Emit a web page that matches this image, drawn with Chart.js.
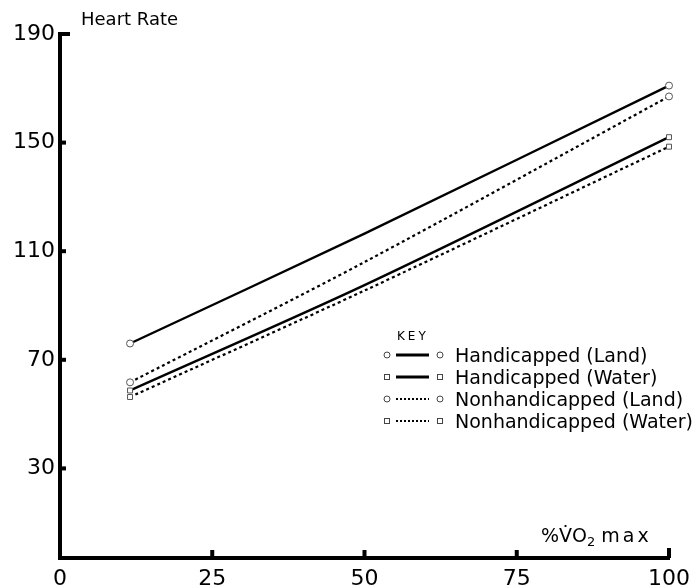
<!DOCTYPE html>
<html>
<head>
<meta charset="utf-8">
<script src="https://cdn.jsdelivr.net/npm/chart.js@4.4.1/dist/chart.umd.min.js"></script>
<style>
  html, body { margin: 0; padding: 0; background: #fff; }
  #wrap { position: relative; width: 699px; height: 586px; font-family: "DejaVu Sans", sans-serif; color: #000; }
  #wrap canvas { position: absolute; left: 0; top: 0; }
  .lbl { position: absolute; white-space: nowrap; }
  .key-row { display: flex; align-items: center; height: 22px; }
  .key-row svg { flex: none; margin-right: 5px; }
  .key-row span { font-size: 19px; line-height: 22px; }
  sub { font-size: 13px; vertical-align: -4px; line-height: 0; }
</style>
</head>
<body>
<div id="wrap">
  <canvas id="c-hr" width="699" height="586"></canvas>
  <div class="lbl" style="left:81px;top:10px;font-size:18px;line-height:18px">Heart Rate</div>
  <div class="lbl" style="left:541px;top:526px;font-size:19px;line-height:19px">%V̇O<sub>2</sub> <span style="letter-spacing:3px">max</span></div>
  <div class="lbl" style="left:397px;top:330px;font-size:12px;line-height:12px;letter-spacing:3px">KEY</div>
  <div id="hr-legend" style="position:absolute;left:380px;top:344px"></div>
</div>
<script>
// % VO2 max (x) and heart rate readings per group
const xPct    = [11.5, 50, 100];
const hcLand  = [76, 116.5, 171];
const hcWater = [58.7, 97.5, 152];
const nhLand  = [61.7, 106, 167];
const nhWater = [56.3, 95.5, 148.5];
const yTicks  = [30, 70, 110, 150, 190];
const xTicks  = [0, 25, 50, 75, 100];
const names   = ['Handicapped (Land)', 'Handicapped (Water)', 'Nonhandicapped (Land)', 'Nonhandicapped (Water)'];

const series = [hcLand, hcWater, nhLand, nhWater];
const marks  = ['circle', 'rect', 'circle', 'rect'];
const dashes = [[], [], [3, 3], [3, 3]];

const isEnd = ctx => ctx.dataIndex === 0 || ctx.dataIndex === ctx.dataset.data.length - 1;

const tickStubs = {
  id: 'tickStubs',
  afterDraw(chart) {
    const { ctx, chartArea: a, scales: { x, y } } = chart;
    ctx.save();
    ctx.fillStyle = '#000';
    yTicks.forEach(v => {
      const py = y.getPixelForValue(v);
      ctx.fillRect(a.left, py - 2, v === 190 ? 10 : 6, 4);
    });
    xTicks.slice(1).forEach(v => {
      const px = x.getPixelForValue(v);
      ctx.fillRect(px - 2, a.bottom - (v === 100 ? 10 : 8), 4, v === 100 ? 10 : 8);
    });
    ctx.restore();
  }
};

const chart = new Chart(document.getElementById('c-hr'), {
  type: 'line',
  data: {
    datasets: series.map((s, i) => ({
      label: names[i],
      data: s.map((v, j) => ({ x: xPct[j], y: v })),
      borderColor: '#000', borderWidth: dashes[i].length ? 2.2 : 2.4, borderDash: dashes[i],
      tension: 0.3, fill: false, clip: false,
      pointStyle: marks[i],
      pointRadius: ctx => isEnd(ctx) ? 3.5 : 0,
      pointBackgroundColor: '#fff', pointBorderColor: '#555', pointBorderWidth: 1,
    })),
  },
  options: {
    responsive: false, animation: false,
    layout: { padding: { top: 34, right: 30, left: 2, bottom: 0 } },
    plugins: { legend: { display: false }, tooltip: { enabled: false } },
    scales: {
      x: {
        type: 'linear', min: 0, max: 100,
        afterBuildTicks: sc => { sc.ticks = xTicks.map(v => ({ value: v })); },
        afterFit: sc => { sc.height = 28; },
        grid: { drawOnChartArea: false, drawTicks: false },
        border: { color: '#000', width: 4 },
        ticks: { color: '#000', padding: 8, maxRotation: 0, autoSkip: false,
                 font: { family: 'DejaVu Sans', size: 22 } },
      },
      y: {
        type: 'linear', min: -3, max: 190,
        afterBuildTicks: sc => { sc.ticks = yTicks.map(v => ({ value: v })); },
        afterFit: sc => { sc.width = 58; },
        grid: { drawOnChartArea: false, drawTicks: false },
        border: { color: '#000', width: 4 },
        ticks: { color: '#000', padding: 5, font: { family: 'DejaVu Sans', size: 22 } },
      },
    },
  },
  plugins: [tickStubs],
});

document.getElementById('hr-legend').innerHTML = chart.data.datasets.map(d => {
  const dash = d.borderDash.length ? ' stroke-dasharray="2 2"' : '';
  const w = d.borderDash.length ? 1.8 : 2.8;
  const m = cx => d.pointStyle === 'rect'
    ? `<rect x="${cx - 2.5}" y="8.5" width="5" height="5" fill="#fff" stroke="#444" stroke-width="1"/>`
    : `<circle cx="${cx}" cy="11" r="3" fill="#fff" stroke="#444" stroke-width="1"/>`;
  return `<div class="key-row"><svg width="70" height="22">${m(7)}<line x1="16" y1="11" x2="49" y2="11" stroke="#000" stroke-width="${w}"${dash}/>${m(60)}</svg><span>${d.label}</span></div>`;
}).join('');
</script>
</body>
</html>
